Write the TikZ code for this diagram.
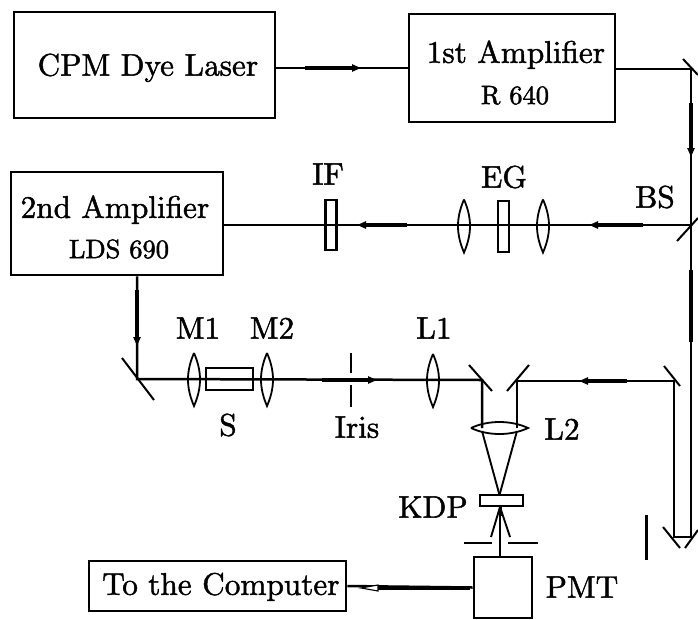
\documentclass[tikz,border=0pt]{standalone}
\usetikzlibrary{arrows.meta}
\font\bigfnt=cmr10 at 31.3pt
\font\smallfnt=cmr10 at 26.5pt
\tikzset{
  x=1pt,y=-1pt,
  box/.style={draw,line width=2.6pt,inner sep=0pt,rectangle},
  thinbox/.style={draw,line width=2.4pt,inner sep=0pt,rectangle},
  beam/.style={line width=2.5pt},
  heavy/.style={line width=3.8pt},
  tipped/.style={heavy,-{Stealth[length=9pt,width=7pt,inset=0pt]}},
  mirror/.style={line width=2pt},
  inked/.style={execute at begin node={\special{pdf:code 2 Tr 0.45 w}},execute at end node={\special{pdf:code 0 Tr 1 w}}},
  lab/.style={inner sep=0pt,font=\bigfnt,inked},
  sublab/.style={inner sep=0pt,font=\smallfnt,inked},
  optic/.style={line width=1.8pt},
  slope/.style={line width=1.9pt},
}
\newcommand{\lensv}[2]{\draw[optic] (#1,#2-26.5) .. controls (#1-8,#2-8) and (#1-8,#2+8) .. (#1,#2+26.5) .. controls (#1+8,#2+8) and (#1+8,#2-8) .. (#1,#2-26.5);}
\begin{document}
\begin{tikzpicture}
\useasboundingbox (0,0) rectangle (698,619);
% boxes
\node[box,minimum width=261pt,minimum height=106pt] (cpm) at (144.5,65) {};
\node[box,minimum width=206pt,minimum height=108pt] (amp1) at (512,68) {};
\node[box,minimum width=212pt,minimum height=103pt] (amp2) at (117,223.5) {};
\node[box,minimum width=257pt,minimum height=50pt] (comp) at (217.5,586) {};
\node[box,minimum width=58pt,minimum height=61pt] (pmt) at (503,587.5) {};
\node[thinbox,minimum width=47pt,minimum height=22pt] (samp) at (229.5,379) {};
\node[thinbox,minimum width=43pt,minimum height=11pt] (kdp) at (501.5,500.5) {};
\node[thinbox,minimum width=11pt,minimum height=51pt] (eg) at (503.5,226.5) {};
\node[thinbox,minimum width=11pt,minimum height=50pt] (if) at (331,225) {};
% labels
\node[lab] (t1) at (148,68) {CPM Dye Laser};
\node[lab] (t2) at (516,55) {1st Amplifier};
\node[sublab] (t3) at (515,95) {R 640};
\node[lab] (t4) at (115,210) {2nd Amplifier};
\node[sublab] (t5) at (119,249) {LDS 690};
\node[lab] (t6) at (221,587) {To the Computer};
\node[lab] at (328,174) {IF};
\node[lab] at (504,177) {EG};
\node[lab] at (655,197) {BS};
\node[lab] at (198,328) {M1};
\node[lab] at (272,328) {M2};
\node[lab] at (434,328) {L1};
\node[lab] at (228,425) {S};
\node[lab] at (357,427) {Iris};
\node[lab] at (562,429) {L2};
\node[lab] at (433,507) {KDP};
\node[lab] at (582,587) {PMT};
% beam points
\coordinate (m1) at (691,69);
\coordinate (bs) at (691,225);
\coordinate (bot) at (691,537);
\coordinate (botl) at (674,537);
\coordinate (mtr) at (674,381);
\coordinate (mr) at (517,381);
\coordinate (ml) at (482,380);
\coordinate (mleft) at (137,379);
\coordinate (focus) at (499.5,495);
\coordinate (foc2) at (500,507);
% main beams
\draw[beam] (cpm.east |- 0,68) -- (amp1.west |- 0,68);
\draw[beam] (amp1.east |- m1) -- (m1) -- (bot) -- (botl) -- (mtr) -- (mr) -- (mr |- 0,428);
\draw[beam] (bs) -- (amp2.east |- bs);
\draw[beam] (amp2.south -| mleft) -- (mleft) -- (ml) -- (ml |- 0,428);
\draw[slope] (ml |- 0,431) -- (focus);
\draw[slope] (mr |- 0,431) -- (focus);
\draw[slope] (foc2) -- (491,537);
\draw[slope] (foc2) -- (510,537);
\draw[beam] (foc2) -- (pmt.north -| foc2);
\draw[beam] (comp.east) -- (pmt.west);
% heavy arrow marks
\draw[tipped] (305,68) -- (361,68);
\draw[tipped] (691,103) -- (691,157);
\draw[heavy] (691,270) -- (691,342);
\draw[tipped] (643,225) -- (589,225);
\draw[tipped] (407,225) -- (357,225);
\draw[tipped] (137,290) -- (137,346);
\draw[tipped] (322,380) -- (377,380);
\draw[tipped] (627,381) -- (579,381);
\draw[heavy] (470,588) -- (377,588);
\fill[white,draw=black,line width=1.1pt] (361,588) -- (378,585) -- (378,591) -- cycle;
\draw[line width=3pt] (646,515) -- (646,560);
\draw[line width=3pt] (500,506) -- (500,516);
% mirrors
\draw[mirror] (683,59) -- (698,75);
\draw[mirror] (677,241) -- (698,218);
\draw[mirror] (122,358) -- (154,400);
\draw[mirror] (469,365) -- (492,391);
\draw[mirror] (507,391) -- (529,365);
\draw[mirror] (664,366) -- (680,386);
\draw[mirror] (663,527) -- (680,548);
\draw[mirror] (685,548) -- (698,530);
% lenses
\lensv{464}{226}
\lensv{543}{226}
\lensv{194}{379.5}
\lensv{267}{379.5}
\lensv{433}{380.5}
\draw[optic] (471,428) .. controls (488,420) and (511,420) .. (528,428) .. controls (511,436) and (488,436) .. (471,428);
% iris and slit
\draw[beam] (351,353) -- (351,373);
\draw[beam] (351,385) -- (351,407);
\draw[beam] (464,543) -- (492,543);
\draw[beam] (508,543) -- (538,543);
\end{tikzpicture}
\end{document}
